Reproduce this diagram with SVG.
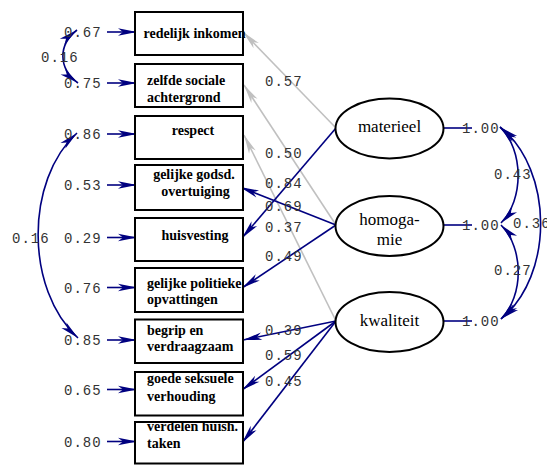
<svg xmlns="http://www.w3.org/2000/svg" width="547" height="465" viewBox="0 0 547 465">
<style>
.box{fill:#fff;stroke:#000;stroke-width:2}
.ell{fill:#fff;stroke:#000;stroke-width:2}
.bt{font-family:"Liberation Serif",serif;font-weight:bold;font-size:14px;fill:#000}
.et{font-family:"Liberation Serif",serif;font-size:17px;fill:#000}
.lb{font-family:"Liberation Mono",monospace;font-size:14px;fill:#333;letter-spacing:1px}
.b{fill:none;stroke:#000080;stroke-width:1.6}
.g{fill:none;stroke:#c0c0c0;stroke-width:1.6}
</style>
<defs>
<marker id="ab" markerUnits="userSpaceOnUse" markerWidth="20" markerHeight="10" refX="19" refY="5" orient="auto-start-reverse" overflow="visible">
<path d="M19,5 L0,1.3 L5,5 L0,8.7 Z" fill="#000080"/>
</marker>
<marker id="ag" markerUnits="userSpaceOnUse" markerWidth="20" markerHeight="10" refX="19" refY="5" orient="auto" overflow="visible">
<path d="M19,5 L0,1.3 L5,5 L0,8.7 Z" fill="#c0c0c0"/>
</marker>
</defs>

<g id="connectors">
<!-- error arrows -->
<line class="b" x1="107" y1="32" x2="137" y2="32" marker-end="url(#ab)"/>
<line class="b" x1="107" y1="83" x2="137" y2="83" marker-end="url(#ab)"/>
<line class="b" x1="107" y1="134" x2="137" y2="134" marker-end="url(#ab)"/>
<line class="b" x1="107" y1="185" x2="137" y2="185" marker-end="url(#ab)"/>
<line class="b" x1="107" y1="237.5" x2="137" y2="237.5" marker-end="url(#ab)"/>
<line class="b" x1="107" y1="287.5" x2="137" y2="287.5" marker-end="url(#ab)"/>
<line class="b" x1="107" y1="340" x2="137" y2="340" marker-end="url(#ab)"/>
<line class="b" x1="107" y1="389.5" x2="137" y2="389.5" marker-end="url(#ab)"/>
<line class="b" x1="107" y1="441.5" x2="137" y2="441.5" marker-end="url(#ab)"/>
<!-- error covariances -->
<path class="b" d="M77,30 C58,45 58,68 78,83" marker-start="url(#ab)" marker-end="url(#ab)"/>
<path class="b" d="M77,133 C25,180 25,290 78,338" marker-start="url(#ab)" marker-end="url(#ab)"/>
<!-- loadings -->
<line class="g" x1="336" y1="128" x2="243" y2="32" marker-end="url(#ag)"/>
<line class="g" x1="336" y1="225" x2="244" y2="85" marker-end="url(#ag)"/>
<line class="g" x1="336" y1="321" x2="244" y2="135" marker-end="url(#ag)"/>
<line class="b" x1="336" y1="128" x2="242" y2="238" marker-end="url(#ab)"/>
<line class="b" x1="336" y1="225" x2="240" y2="187" marker-end="url(#ab)"/>
<line class="b" x1="336" y1="225" x2="242" y2="288" marker-end="url(#ab)"/>
<line class="b" x1="336" y1="321" x2="243" y2="340" marker-end="url(#ab)"/>
<line class="b" x1="336" y1="321" x2="242" y2="390" marker-end="url(#ab)"/>
<line class="b" x1="336" y1="321" x2="242" y2="443" marker-end="url(#ab)"/>
<!-- latent variances -->
<line class="b" x1="444" y1="128" x2="472" y2="128"/>
<line class="b" x1="444" y1="225" x2="472" y2="225"/>
<line class="b" x1="444" y1="321" x2="472" y2="321"/>
<!-- latent covariances -->
<path class="b" d="M500,127 C524,150 524,200 501,223" marker-start="url(#ab)" marker-end="url(#ab)"/>
<path class="b" d="M501,225 C524,248 524,296 501,319" marker-start="url(#ab)" marker-end="url(#ab)"/>
<path class="b" d="M500,127 C554,170 554,276 501,319" marker-start="url(#ab)" marker-end="url(#ab)"/>
</g>

<g id="labels">
<text class="lb" x="64" y="37">0.67</text>
<text class="lb" x="64" y="88">0.75</text>
<text class="lb" x="64" y="139">0.86</text>
<text class="lb" x="64" y="190">0.53</text>
<text class="lb" x="64" y="242.5">0.29</text>
<text class="lb" x="64" y="292.5">0.76</text>
<text class="lb" x="64" y="345">0.85</text>
<text class="lb" x="64" y="394.5">0.65</text>
<text class="lb" x="64" y="446.5">0.80</text>
<text class="lb" x="41" y="62">0.16</text>
<text class="lb" x="12" y="242.5">0.16</text>
<text class="lb" x="265" y="86">0.57</text>
<text class="lb" x="265" y="158">0.50</text>
<text class="lb" x="265" y="188">0.84</text>
<text class="lb" x="265" y="211">0.69</text>
<text class="lb" x="265" y="232">0.37</text>
<text class="lb" x="265" y="261">0.49</text>
<text class="lb" x="265" y="335">0.39</text>
<text class="lb" x="265" y="360">0.59</text>
<text class="lb" x="265" y="386">0.45</text>
<text class="lb" x="462" y="133">1.00</text>
<text class="lb" x="462" y="230">1.00</text>
<text class="lb" x="462" y="326">1.00</text>
<text class="lb" x="494" y="179">0.43</text>
<text class="lb" x="513" y="228">0.36</text>
<text class="lb" x="494" y="275">0.27</text>
</g>

<g id="n1"><rect class="box" x="135" y="12" width="108" height="43"/><text class="bt" x="143.5" y="37.5">redelijk inkomen</text></g>
<g id="n2"><rect class="box" x="135" y="64" width="108" height="43"/><text class="bt" x="147" y="85">zelfde sociale</text><text class="bt" x="147" y="102">achtergrond</text></g>
<g id="n3"><rect class="box" x="135" y="116" width="108" height="43"/><text class="bt" x="193" y="134.5" text-anchor="middle">respect</text></g>
<g id="n4"><rect class="box" x="135" y="165" width="108" height="45"/><text class="bt" x="194" y="179" text-anchor="middle">gelijke godsd.</text><text class="bt" x="195.5" y="196" text-anchor="middle">overtuiging</text></g>
<g id="n5"><rect class="box" x="135" y="218" width="108" height="43"/><text class="bt" x="195" y="240" text-anchor="middle">huisvesting</text></g>
<g id="n6"><rect class="box" x="135" y="268" width="108" height="44"/><text class="bt" x="147" y="287.5">gelijke politieke</text><text class="bt" x="147" y="304">opvattingen</text></g>
<g id="n7"><rect class="box" x="135" y="319.5" width="108" height="43.5"/><text class="bt" x="147" y="335">begrip en</text><text class="bt" x="147" y="351">verdraagzaam</text></g>
<g id="n8"><rect class="box" x="135" y="372" width="108" height="43.5"/><text class="bt" x="147" y="383">goede seksuele</text><text class="bt" x="147" y="400.5">verhouding</text></g>
<g id="n9"><rect class="box" x="135" y="422" width="108" height="41.5"/><text class="bt" x="147" y="431">verdelen huish.</text><text class="bt" x="147" y="448">taken</text></g>

<g id="materieel"><ellipse class="ell" cx="389.5" cy="128.5" rx="54" ry="30"/><text class="et" x="389.5" y="132" text-anchor="middle">materieel</text></g>
<g id="homogamie"><ellipse class="ell" cx="389.5" cy="226" rx="54" ry="30"/><text class="et" x="389.5" y="225" text-anchor="middle">homoga-</text><text class="et" x="389.5" y="245" text-anchor="middle">mie</text></g>
<g id="kwaliteit"><ellipse class="ell" cx="389.5" cy="322" rx="54" ry="30"/><text class="et" x="389.5" y="326" text-anchor="middle">kwaliteit</text></g>
</svg>
